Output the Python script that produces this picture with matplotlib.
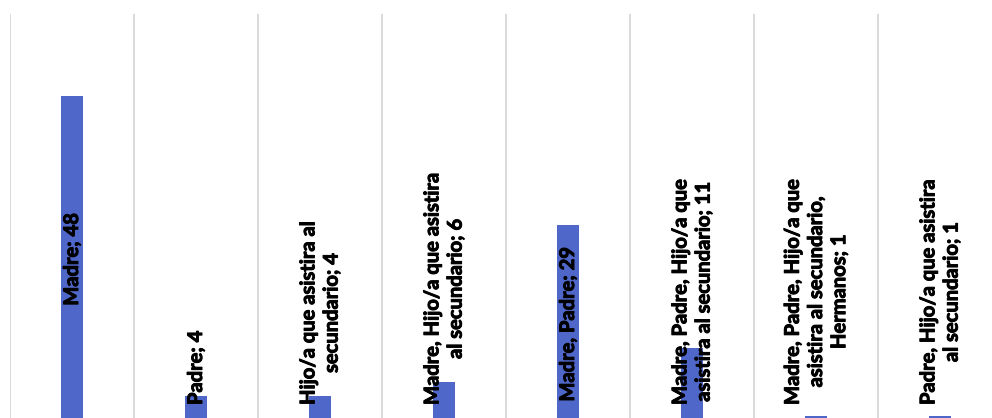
import numpy as np
import matplotlib
matplotlib.use("Agg")
from matplotlib import pyplot as plt
from matplotlib import patheffects

# categorias y cantidades
categorias = [
    "Madre",
    "Padre",
    "Hijo/a que asistira al\nsecundario",
    "Madre, Hijo/a que asistira\nal secundario",
    "Madre, Padre",
    "Madre, Padre, Hijo/a que\nasistira al secundario",
    "Madre, Padre, Hijo/a que\nasistira al secundario,\nHermanos",
    "Padre, Hijo/a que asistira\nal secundario",
]
valores = [48, 4, 4, 6, 29, 11, 1, 1]

color_barra = "#4F67C8"
color_grilla = "#D9D9D9"

fig = plt.figure(figsize=(9.92, 4.18), dpi=100)
ax = fig.add_axes([10 / 992, -5 / 418, 992 / 992, 409 / 418])

x = np.arange(len(valores))
ax.bar(x, valores, width=0.185, color=color_barra, zorder=2)
ax.set_xlim(-0.5, len(valores) - 0.5)
ax.set_ylim(0, 60)

# lineas verticales entre categorias
for b in np.arange(len(valores) + 1) - 0.5:
    ax.axvline(b, color=color_grilla, lw=1.4, zorder=1)

for s in ax.spines.values():
    s.set_visible(False)
ax.set_xticks([])
ax.set_yticks([])

# trazo extra para engrosar la letra
grueso = [patheffects.withStroke(linewidth=0.7, foreground="black")]

# etiquetas centradas en la barra, sin bajar del piso
piso = 2.64
textos = []
for xi, cat, v in zip(x, categorias, valores):
    t = ax.text(xi, v / 2, f"{cat}; {v}", rotation=90, ha="center", va="center",
                multialignment="center", fontsize=14.5, fontweight="bold",
                family=["Lato", "DejaVu Sans"], color="black", zorder=3,
                linespacing=1.2, path_effects=grueso)
    textos.append((t, v))

fig.canvas.draw()
r = fig.canvas.get_renderer()
inv = ax.transData.inverted()
for t, v in textos:
    bb = t.get_window_extent(r)
    y0 = inv.transform((0, bb.y0))[1]
    y1 = inv.transform((0, bb.y1))[1]
    if y0 < piso:
        t.set_y(piso + (y1 - y0) / 2)

fig.savefig("out.png", dpi=100)
